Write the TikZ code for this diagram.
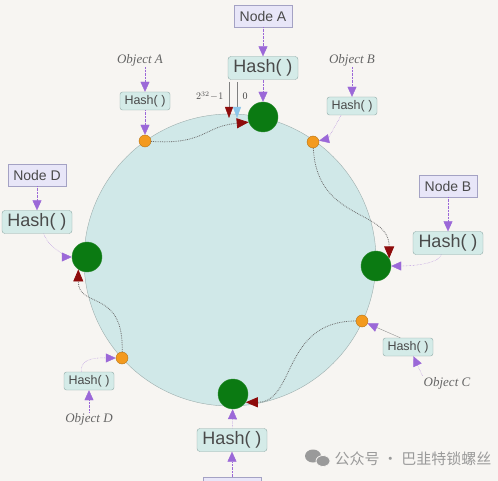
\documentclass[tikz,border=0pt]{standalone}
\usepackage{fontspec}
\setmainfont{Liberation Serif}
\setsansfont{Liberation Sans}
\newfontfamily\cjkfont{Noto Sans CJK SC}
\usetikzlibrary{calc,arrows.meta,positioning}
\definecolor{paper}{HTML}{F7F5F2}
\definecolor{ringfill}{HTML}{D0E8E8}
\definecolor{ringline}{HTML}{9DAEAD}
\definecolor{servergreen}{HTML}{0B7A12}
\definecolor{keyorange}{HTML}{F39A1E}
\definecolor{nodefill}{HTML}{E8E6F8}
\definecolor{nodeline}{HTML}{A4A2C4}
\definecolor{hashfill}{HTML}{D4EBE8}
\definecolor{hashline}{HTML}{8FAAA7}
\definecolor{arrowpurple}{HTML}{9B68D8}
\definecolor{tipred}{HTML}{8E0B0B}
\definecolor{tipblue}{HTML}{8CC6EA}
\definecolor{textgrey}{HTML}{4A4A4A}
\definecolor{markgrey}{HTML}{9A9A9A}

\begin{document}
\begin{tikzpicture}[x=1pt,y=-1pt,
  nodebox/.style={draw=nodeline,fill=nodefill,text=textgrey,font=\sffamily\fontsize{14}{14}\selectfont,minimum width=58pt,minimum height=22pt,inner sep=0pt},
  hashbig/.style={draw=hashline,fill=hashfill,text=textgrey,rounded corners=3pt,font=\sffamily\fontsize{18}{18}\selectfont,minimum width=70pt,minimum height=23pt,inner sep=0pt},
  hashsmall/.style={draw=hashline,fill=hashfill,text=textgrey,rounded corners=2.5pt,font=\sffamily\fontsize{12.5}{12.5}\selectfont,minimum width=50pt,minimum height=18pt,inner sep=0pt},
  objlabel/.style={text=textgrey!85,font=\itshape\fontsize{13}{13}\selectfont,inner sep=1pt},
  server/.style={circle,fill=servergreen,draw=servergreen!85!white,minimum size=30pt,inner sep=0pt},
  keydot/.style={circle,fill=keyorange,draw=keyorange!75!black,minimum size=12pt,inner sep=0pt},
  hasharrow/.style={draw=arrowpurple,densely dotted,-{Triangle[length=10pt,width=9pt,color=arrowpurple]}},
  walkarrow/.style={draw=textgrey!80,densely dotted,thick,-{Triangle[length=12pt,width=10pt,color=tipred]}}]
\useasboundingbox (0,0) rectangle (498,481);
\clip (0,0) rectangle (498,481);
\fill[paper] (0,0) rectangle (498,481);
% the ring
\path[fill=ringfill,draw=ringline] (230,260) circle (146);
% servers on the ring
\node[server] (nA) at (263,117) {};
\node[server] (nB) at (376,266) {};
\node[server] (nC) at (233,394) {};
\node[server] (nD) at (87,257) {};
% keys on the ring
\node[keydot] (oA) at (145,141) {};
\node[keydot] (oB) at (313,142) {};
\node[keydot] (oC) at (362,321) {};
\node[keydot] (oD) at (122,358) {};
% start of the ring
\coordinate (endtop) at (229,82);
\coordinate (endbot) at (229,118);
\coordinate (zerotop) at (237,82);
\coordinate (zerobot) at (237,118);
\draw[textgrey!70,-{Triangle[length=11pt,width=8pt,color=tipred]}] (endtop)--(endbot);
\draw[textgrey!70,-{Triangle[length=11pt,width=8pt,color=tipblue]}] (zerotop)--(zerobot);
\node[anchor=east,text=textgrey,font=\fontsize{10}{10}\selectfont] (lmax) at (227,96) {$2^{32}\!-\!1$};
\node[anchor=west,text=textgrey,font=\fontsize{10}{10}\selectfont] (lzero) at (239,96) {0};
% server boxes
\node[nodebox] (boxA) at (263,16) {Node A};
\node[hashbig] (hashA) at (263,68) {Hash( )};
\node[nodebox] (boxB) at (448,186) {Node B};
\node[hashbig] (hashB) at (448,243) {Hash( )};
\node[hashbig] (hashC) at (232,440) {Hash( )};
\node[nodebox] (boxC) at (232,488) {};
\node[nodebox] (boxD) at (37,175) {Node D};
\node[hashbig] (hashD) at (37,222) {Hash( )};
% object boxes
\node[objlabel] (objA) at (140,60) {Object A};
\node[hashsmall] (hoA) at (145,101) {Hash( )};
\node[objlabel] (objB) at (352,60) {Object B};
\node[hashsmall] (hoB) at (352,106) {Hash( )};
\node[hashsmall] (hoC) at (408,347) {Hash( )};
\node[objlabel] (objC) at (447,383) {Object C};
\node[hashsmall] (hoD) at (89,381) {Hash( )};
\node[objlabel] (objD) at (89,419) {Object D};
% hashing arrows
\draw[hasharrow] (boxA)--(hashA);
\draw[hasharrow] (hashA)--(nA);
\draw[hasharrow] (boxB)--(hashB);
\draw[hasharrow] (hashB.240) .. controls +(-4,12) and +(20,0) .. (nB);
\draw[hasharrow] (boxC)--(hashC);
\draw[hasharrow] (hashC)--(nC);
\draw[hasharrow] (boxD)--(hashD);
\draw[hasharrow] (hashD.-60) .. controls +(4,14) and +(-16,0) .. (nD);
\draw[hasharrow] (objA.south-|hoA.north)--(hoA);
\draw[hasharrow] (hoA)--(oA);
\draw[hasharrow] (objB)--(hoB);
\draw[hasharrow] (hoB.220) .. controls +(-6,12) and +(14,-3) .. (oB);
\draw[hasharrow] (objC.north west)--(hoC.-60);
\draw[hasharrow,solid,draw=textgrey!60] (hoC.130)--(oC);
\draw[hasharrow] (objD)--(hoD);
\draw[hasharrow] (hoD.130) .. controls +(-2,-16) and +(-18,0) .. (oD);
% clockwise walk to the next server
\draw[walkarrow] (oA) .. controls +(60,4) and +(-45,4) .. (nA.200);
\draw[walkarrow] (oB) .. controls +(4,80) and +(0,-50) .. (nB.30);
\draw[walkarrow] (oC) .. controls +(-80,0) and +(50,0) .. (nC.-33);
\draw[walkarrow] (oD) .. controls +(2,-70) and +(0,40) .. (nD.235);
% watermark
\fill[markgrey] (313,456) ellipse (8 and 6.5);
\fill[markgrey,draw=paper,thick] (323,461) ellipse (7 and 5.5);
\node[anchor=west,text=markgrey,font=\cjkfont\fontsize{15}{15}\selectfont] (mark) at (331,459) {公众号 · 巴韭特锁螺丝};
\end{tikzpicture}
\end{document}
